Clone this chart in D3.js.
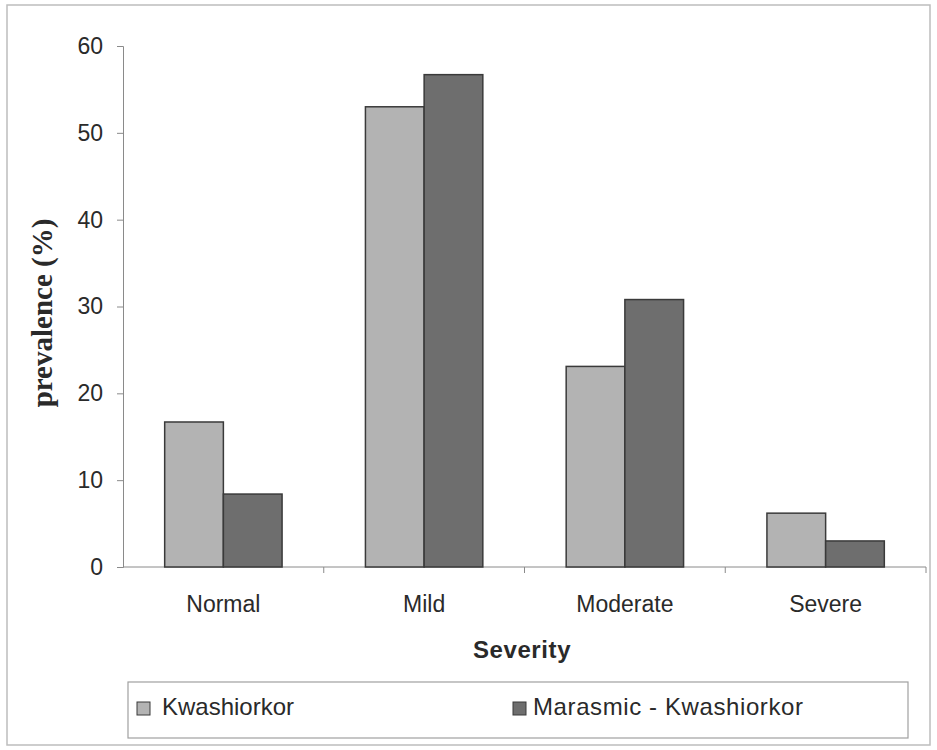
<!DOCTYPE html>
<html><head><meta charset="utf-8">
<script src="https://cdn.jsdelivr.net/npm/d3@7"></script>
<style>body{margin:0;background:#fff}svg{display:block}</style>
</head><body>
<svg id="c" width="937" height="750"></svg>
<script>
const categories = ["Normal","Mild","Moderate","Severe"];
const seriesNames = ["Kwashiorkor","Marasmic - Kwashiorkor"];
const kwashiorkor = [16.7, 53.0, 23.1, 6.2];
const marasmicKwashiorkor = [8.4, 56.7, 30.8, 3.0];
const yTicks = [0,10,20,30,40,50,60];
const colors = ["#b3b3b3","#6e6e6e"];

const svg = d3.select("#c");
const m = {l:123, r:926, t:46, b:567};
const sans = "Liberation Sans, Arial, sans-serif";
svg.append("rect").attr("x",7).attr("y",5).attr("width",923).attr("height",740)
  .attr("fill","none").attr("stroke","#bdbdbd").attr("stroke-width",1.5);

const x = d3.scaleBand().domain(categories).range([m.l,m.r]);
const xs = d3.scaleBand().domain(seriesNames).range([0,x.bandwidth()]).paddingOuter(0.71).paddingInner(0);
const y = d3.scaleLinear().domain([0,60]).range([m.b,m.t]);

const yAxis = svg.append("g").attr("transform",`translate(${m.l},0)`)
  .call(d3.axisLeft(y).tickValues(yTicks).tickSize(6).tickPadding(14));
yAxis.selectAll("path,line").attr("stroke","#8a8a8a");
yAxis.selectAll("text").attr("font-family",sans).attr("font-size",23).attr("fill","#2a2a2a");

const xAxis = svg.append("g").attr("transform",`translate(0,${m.b})`)
  .call(d3.axisBottom(x).tickSize(0).tickPadding(29));
xAxis.select("path").attr("stroke","#8a8a8a").attr("d",`M${m.l},0H${m.r}`);
xAxis.selectAll("text").attr("font-family",sans).attr("font-size",23).attr("fill","#2a2a2a");
svg.append("g").selectAll("line").data(categories.slice(1).concat(["__end"]))
  .join("line")
  .attr("x1",d=> d==="__end"? m.r : x(d)).attr("x2",d=> d==="__end"? m.r : x(d))
  .attr("y1",m.b).attr("y2",m.b+6).attr("stroke","#8a8a8a");

const data = [kwashiorkor, marasmicKwashiorkor];
data.forEach((vals,si)=>{
  svg.append("g").selectAll("rect").data(vals).join("rect")
    .attr("x",(d,i)=>x(categories[i])+xs(seriesNames[si]))
    .attr("width",xs.bandwidth())
    .attr("y",d=>y(d)).attr("height",d=>y(0)-y(d))
    .attr("fill",colors[si]).attr("stroke","#3a3a3a").attr("stroke-width",1.5);
});

svg.append("text").attr("transform","translate(52,313) rotate(-90)")
  .attr("text-anchor","middle").attr("font-family","Liberation Serif, Times New Roman, serif")
  .attr("font-weight","bold").attr("font-size",29).attr("fill","#2a2a2a").text("prevalence (%)");
svg.append("text").attr("x",522).attr("y",658).attr("text-anchor","middle")
  .attr("font-family",sans).attr("font-weight","bold").attr("letter-spacing",0.6)
  .attr("font-size",24).attr("fill","#2a2a2a").text("Severity");

svg.append("rect").attr("x",128).attr("y",682).attr("width",780).attr("height",56)
  .attr("fill","none").attr("stroke","#a0a0a0").attr("stroke-width",1.2);
const lx = [137, 513];
const lg = svg.append("g").selectAll("g").data(seriesNames).join("g")
  .attr("transform",(d,i)=>`translate(${lx[i]},0)`);
lg.append("rect").attr("x",0).attr("y",702).attr("width",13).attr("height",13)
  .attr("fill",(d,i)=>colors[i]).attr("stroke","#3a3a3a").attr("stroke-width",1);
lg.append("text").attr("x",(d,i)=> i===0 ? 25 : 20).attr("y",715).attr("font-family",sans)
  .attr("font-size",24).attr("letter-spacing",(d,i)=> i===0 ? 0 : 0.6).attr("fill","#2a2a2a").text(d=>d);
</script>
</body></html>
